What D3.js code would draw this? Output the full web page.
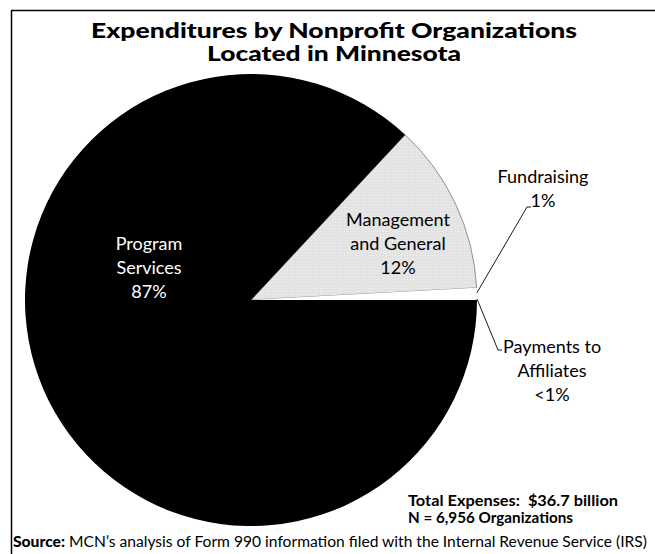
<!DOCTYPE html>
<html>
<head>
<meta charset="utf-8">
<script src="https://cdn.jsdelivr.net/npm/d3@7"></script>
<style>
  body { margin: 0; background: #fff; }
  svg { display: block; }
</style>
</head>
<body>
<svg id="chart"></svg>
<script>
var width = 655
var height = 554
var radius = 226
var cx = 251, cy = 300

// slice order starts at the Management wedge, going clockwise
var categories = ["Management and General", "Fundraising", "Payments to Affiliates", "Program Services"]
var shares = [12.2, 0.7, 0.15, 86.95]
var labelLines = [
  ["Management", "and General", "12%"],
  ["Fundraising", "1%"],
  ["Payments to", "Affiliates", "<1%"],
  ["Program", "Services", "87%"]
]
var fills = ["url(#mgmt)", "#fff", "#fff", "#000"]
var textColors = ["#000", "#000", "#000", "#fff"]
// label anchor (centre x, first baseline) in chart coordinates
var labelPos = [[398, 226], [543, 183], [552, 353], [149, 250]]

const svg = d3.select("#chart")
  .attr("width", width)
  .attr("height", height)
  .attr("viewBox", [0, 0, width, height])

// fine screen pattern for the grey wedge
const pat = svg.append("defs").append("pattern")
  .attr("id", "mgmt")
  .attr("patternUnits", "userSpaceOnUse")
  .attr("width", 3).attr("height", 3)
pat.append("rect").attr("width", 3).attr("height", 3).attr("fill", "#e3e3e3")
pat.append("rect").attr("width", 1).attr("height", 1).attr("fill", "#f2f2f2")

// frame: top and left rules only
svg.append("line").attr("x1", 11).attr("x2", width).attr("y1", 10.5).attr("y2", 10.5)
  .attr("stroke", "#000").attr("stroke-width", 1.5)
svg.append("line").attr("x1", 11.5).attr("x2", 11.5).attr("y1", 10).attr("y2", height)
  .attr("stroke", "#000").attr("stroke-width", 1.5)

const start = 43 * Math.PI / 180
const pie = d3.pie().sort(null).value(d => d)
  .startAngle(start).endAngle(start + 2 * Math.PI)
const arcs = pie(shares)

const arc = d3.arc().innerRadius(0).outerRadius(radius)

const g = svg.append("g").attr("transform", `translate(${cx},${cy})`)

g.selectAll("path.slice")
  .data(arcs)
  .join("path")
  .attr("class", "slice")
  .attr("d", arc)
  .attr("fill", (d, i) => fills[i])
  .attr("stroke", (d, i) => i === 0 ? "#777" : "none")
  .attr("stroke-width", 0.8)

// leader lines for the two thin wedges
var leaderElbows = {
  1: [[276, -93], [280, -93]],
  2: [[247, 50], [251, 50]]
}
const line = d3.line()
Object.keys(leaderElbows).forEach(k => {
  const a = arcs[k]
  const mid = (a.startAngle + a.endAngle) / 2
  const p0 = [Math.sin(mid) * radius, -Math.cos(mid) * radius]
  g.append("path")
    .attr("d", line([p0].concat(leaderElbows[k])))
    .attr("fill", "none")
    .attr("stroke", "#000")
    .attr("stroke-width", 0.9)
})

// slice labels
labelLines.forEach((lines, i) => {
  const t = svg.append("text")
    .attr("text-anchor", "middle")
    .attr("fill", textColors[i])
    .style("font", "400 18px Lato, 'Open Sans', sans-serif")
  lines.forEach((s, j) => {
    t.append("tspan")
      .attr("x", labelPos[i][0])
      .attr("y", labelPos[i][1] + j * 24)
      .text(s)
  })
})

// title
var titleLines = ["Expenditures by Nonprofit Organizations", "Located in Minnesota"]
var titleWidths = [486, 254]
titleLines.forEach((s, j) => {
  svg.append("text")
    .attr("x", 334)
    .attr("y", 38 + j * 23)
    .attr("text-anchor", "middle")
    .attr("textLength", titleWidths[j])
    .attr("lengthAdjust", "spacingAndGlyphs")
    .style("font", "900 21px Lato, 'Liberation Sans', sans-serif")
    .text(s)
})

// totals
var totals = ["Total Expenses:  $36.7 billion", "N = 6,956 Organizations"]
var totalWidths = [210, 165]
totals.forEach((s, j) => {
  svg.append("text")
    .attr("x", 408)
    .attr("y", 506 + j * 17)
    .attr("xml:space", "preserve")
    .attr("textLength", totalWidths[j])
    .attr("lengthAdjust", "spacingAndGlyphs")
    .style("font", "700 14.5px Lato, 'Liberation Sans', sans-serif")
    .text(s)
})

// source note
const src = svg.append("text")
  .attr("x", 13)
  .attr("y", 547)
  .attr("textLength", 634)
  .attr("lengthAdjust", "spacingAndGlyphs")
  .style("font", "400 14.5px Lato, 'Liberation Sans', sans-serif")
src.append("tspan").style("font-weight", 900).text("Source:")
src.append("tspan").text(" MCN\u2019s analysis of Form 990 information filed with the Internal Revenue Service (IRS)")
</script>
</body>
</html>
